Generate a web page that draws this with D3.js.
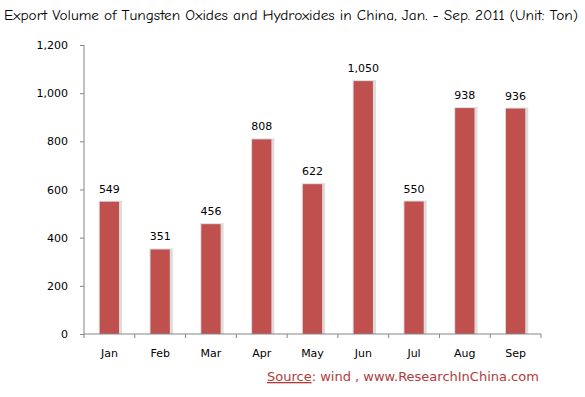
<!DOCTYPE html>
<html>
<head>
<script src="https://cdn.jsdelivr.net/npm/d3@7"></script>
<style>
  body { margin: 0; background: #fff; }
  text { font-family: Tahoma, "DejaVu Sans", sans-serif; }
</style>
</head>
<body>
<script>
// chart data
const months = ["Jan", "Feb", "Mar", "Apr", "May", "Jun", "Jul", "Aug", "Sep"];
const volumes = [549, 351, 456, 808, 622, 1050, 550, 938, 936];
const yTicks = [0, 200, 400, 600, 800, 1000, 1200];

const W = 585, H = 397;
const svg = d3.select("body").append("svg").attr("width", W).attr("height", H);

const x = d3.scaleBand().domain(months).range([84, 541]).paddingInner(0.62).paddingOuter(0.31);
const y = d3.scaleLinear().domain([0, 1200]).range([334, 45]);

// title
svg.append("text")
    .attr("x", 4).attr("y", 20)
    .attr("font-size", 14)
    .attr("textLength", 574).attr("lengthAdjust", "spacingAndGlyphs")
    .style("font-family", "'Comic Sans MS', 'Comic Neue', 'DejaVu Sans', sans-serif")
    .text("Export Volume of Tungsten Oxides and Hydroxides in China, Jan. - Sep. 2011 (Unit: Ton)");

// bar shadows
svg.selectAll("rect.shadow").data(volumes).enter().append("rect")
    .attr("class", "shadow")
    .attr("x", (d, i) => x(months[i]) - 1)
    .attr("y", d => y(d) - 1)
    .attr("width", x.bandwidth() + 4)
    .attr("height", d => y(0) - y(d) + 1)
    .attr("fill", "#dcdcdc");

svg.selectAll("rect.bar").data(volumes).enter().append("rect")
    .attr("class", "bar")
    .attr("x", (d, i) => x(months[i]))
    .attr("y", d => y(d))
    .attr("width", x.bandwidth())
    .attr("height", d => y(0) - y(d))
    .attr("fill", "#C0504D");

// value labels
svg.selectAll("text.val").data(volumes).enter().append("text")
    .attr("class", "val")
    .attr("x", (d, i) => x(months[i]) + x.bandwidth() / 2)
    .attr("y", d => y(d) - 9)
    .attr("text-anchor", "middle")
    .attr("font-size", 11)
    .attr("fill", "#000")
    .text(d => d3.format(",")(d));

// y axis
const yAxis = d3.axisLeft(y).tickValues(yTicks).tickFormat(d3.format(",")).tickSize(4).tickPadding(12);
const gy = svg.append("g").attr("transform", "translate(84,0)").call(yAxis);
gy.select(".domain").attr("stroke", "#868686").attr("d", "M0,45V334");
gy.selectAll(".tick line").attr("stroke", "#868686");
gy.selectAll(".tick text").attr("font-size", 11).attr("fill", "#000").style("font-family", "Tahoma, 'DejaVu Sans', sans-serif");

// x axis
const gx = svg.append("g").attr("transform", "translate(0,334)");
gx.append("line").attr("x1", 84).attr("x2", 541).attr("stroke", "#868686");
const step = x.step();
const bounds = d3.range(months.length + 1).map(i => x(months[0]) - x.step() * x.paddingOuter() + i * step);
gx.selectAll("line.tk").data(bounds).enter().append("line")
    .attr("class", "tk")
    .attr("x1", d => d).attr("x2", d => d)
    .attr("y1", 0).attr("y2", 4)
    .attr("stroke", "#868686");
gx.selectAll("text").data(months).enter().append("text")
    .attr("x", d => x(d) + x.bandwidth() / 2)
    .attr("y", 23)
    .attr("text-anchor", "middle")
    .attr("font-size", 11)
    .attr("fill", "#000")
    .text(d => d);

// source
const src = svg.append("text")
    .attr("x", 267).attr("y", 381)
    .attr("font-size", 13)
    .attr("fill", "#B33B3B")
    .style("font-family", "'Century Gothic', 'URW Gothic', 'DejaVu Sans', sans-serif");
src.append("tspan").attr("text-decoration", "underline").text("Source");
src.append("tspan").text(":  wind , www.ResearchInChina.com");
</script>
</body>
</html>
